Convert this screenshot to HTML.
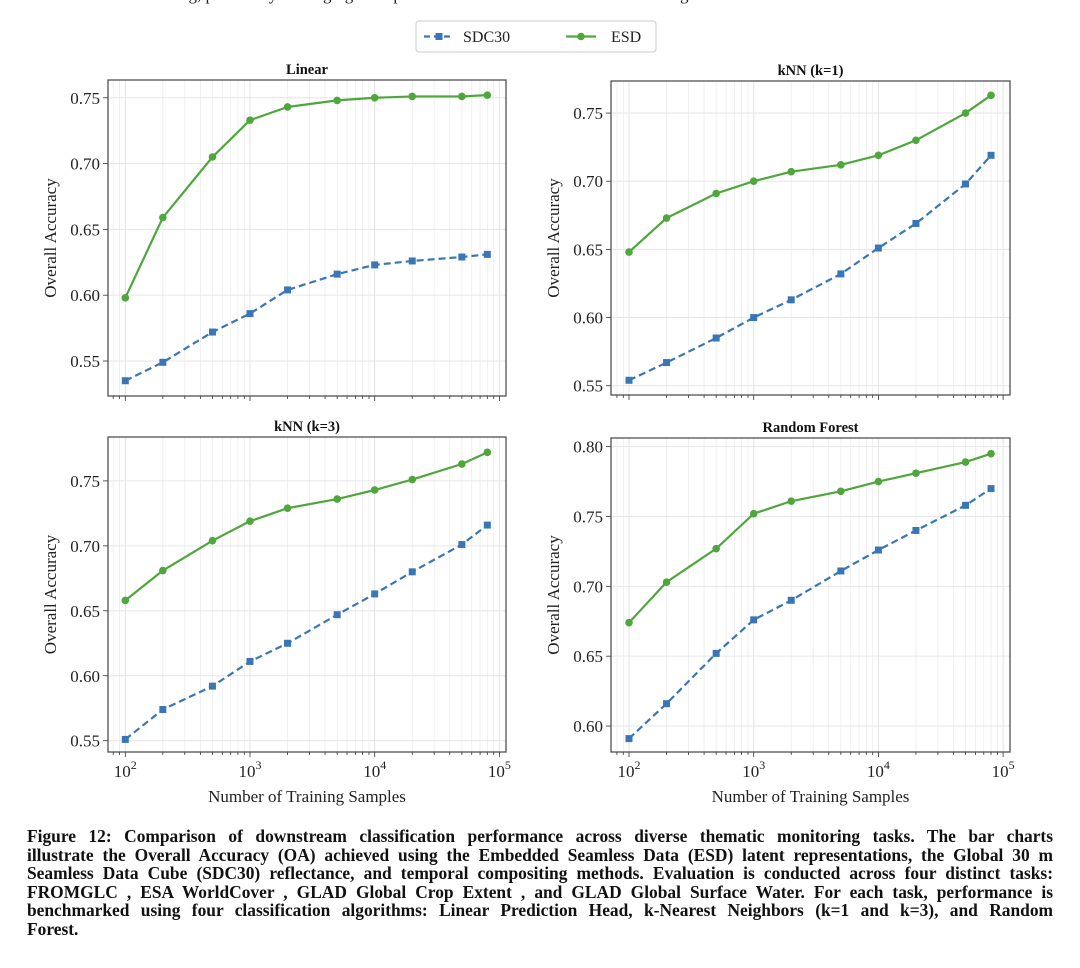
<!DOCTYPE html>
<html><head><meta charset="utf-8"><style>
html,body{margin:0;padding:0;background:#fff;width:1080px;height:968px;overflow:hidden;position:relative;font-family:"Liberation Serif",serif}
.cap{position:absolute;left:27px;width:1026px;font-weight:bold;font-size:17.4px;line-height:18.6px;color:#111}
.cap div{text-align:justify;text-align-last:justify;white-space:normal;height:18.6px;overflow:visible}
.cap div.last{text-align-last:left}
</style></head><body>
<div style="position:absolute;left:180px;top:-15px;font-size:17px;color:#222;white-space:nowrap">ng, previously leveraging multiple sources at the same time for monitoring</div>
<svg id="fig" width="1080" height="820" style="position:absolute;left:0;top:0"></svg>
<div class="cap" style="top:827px">
<div>Figure 12: Comparison of downstream classification performance across diverse thematic monitoring tasks. The bar charts</div>
<div>illustrate the Overall Accuracy (OA) achieved using the Embedded Seamless Data (ESD) latent representations, the Global 30 m</div>
<div>Seamless Data Cube (SDC30) reflectance, and temporal compositing methods. Evaluation is conducted across four distinct tasks:</div>
<div>FROMGLC , ESA WorldCover , GLAD Global Crop Extent , and GLAD Global Surface Water. For each task, performance is</div>
<div>benchmarked using four classification algorithms: Linear Prediction Head, k-Nearest Neighbors (k=1 and k=3), and Random</div>
<div class="last">Forest.</div>
</div>
<script>
const samples=[100,200,500,1000,2000,5000,10000,20000,50000,80000];
const titles=["Linear","kNN (k=1)","kNN (k=3)","Random Forest"];
const esdLinear=[0.598,0.659,0.705,0.733,0.743,0.748,0.750,0.751,0.751,0.752];
const sdcLinear=[0.535,0.549,0.572,0.586,0.604,0.616,0.623,0.626,0.629,0.631];
const esdKnn1=[0.648,0.673,0.691,0.700,0.707,0.712,0.719,0.730,0.750,0.763];
const sdcKnn1=[0.554,0.567,0.585,0.600,0.613,0.632,0.651,0.669,0.698,0.719];
const esdKnn3=[0.658,0.681,0.704,0.719,0.729,0.736,0.743,0.751,0.763,0.772];
const sdcKnn3=[0.551,0.574,0.592,0.611,0.625,0.647,0.663,0.680,0.701,0.716];
const esdRF=[0.674,0.703,0.727,0.752,0.761,0.768,0.775,0.781,0.789,0.795];
const sdcRF=[0.591,0.616,0.652,0.676,0.690,0.711,0.726,0.740,0.758,0.770];
const ticksTL=["0.55","0.60","0.65","0.70","0.75"];
const ticksTR=["0.55","0.60","0.65","0.70","0.75"];
const ticksBL=["0.55","0.60","0.65","0.70","0.75"];
const ticksBR=["0.60","0.65","0.70","0.75","0.80"];
const domains=[[0.5234,0.7635],[0.5432,0.7735],[0.5413,0.7838],[0.5814,0.8062]];
const NS="http://www.w3.org/2000/svg";
const svg=document.getElementById('fig');
function mk(tag,attrs,parent){const e=document.createElementNS(NS,tag);for(const k in attrs)e.setAttribute(k,attrs[k]);(parent||svg).appendChild(e);return e;}
const BLUE="#3a76b5",GREEN="#4ea63c";
const panels=[
 {L:108,R:506,T:80,B:396,x2:125.3,dec:124.7,esd:esdLinear,sdc:sdcLinear,ticks:ticksTL,lbl:false,name:"linear"},
 {L:611,R:1010,T:81,B:395,x2:629,dec:124.7,esd:esdKnn1,sdc:sdcKnn1,ticks:ticksTR,lbl:false,name:"knn1"},
 {L:108,R:506,T:437,B:752,x2:125.3,dec:124.7,esd:esdKnn3,sdc:sdcKnn3,ticks:ticksBL,lbl:true,name:"knn3"},
 {L:611,R:1010,T:438,B:752,x2:629,dec:124.7,esd:esdRF,sdc:sdcRF,ticks:ticksBR,lbl:true,name:"rf"}];
panels.forEach((p,i)=>{
 const g=mk('g',{});
 
 
 const [d0,d1]=domains[i];
 const xs=v=>p.x2+(Math.log10(v)-2)*p.dec;
 const ys=v=>p.B-(v-d0)/(d1-d0)*(p.B-p.T);
 for(let e=1;e<=5;e++)for(let m=1;m<10;m++){const v=m*Math.pow(10,e);const x=xs(v);if(x<p.L||x>p.R)continue;
  mk('line',{x1:x,x2:x,y1:p.T,y2:p.B,stroke:m==1?"#e3e3e3":"#ececec","stroke-width":m==1?1:0.8},g);
  mk('line',{x1:x,x2:x,y1:p.B,y2:p.B+(m==1?5:3),stroke:"#333","stroke-width":0.8},g);
  if(m==1&&p.lbl){const t=mk('text',{x:x,y:p.B+25,"text-anchor":"middle","font-size":17,fill:"#222"},g);t.textContent="10";const s=mk('tspan',{dy:-8,"font-size":12},t);s.textContent=String(e);
   }}
 p.ticks.forEach(tk=>{const y=ys(parseFloat(tk));mk('line',{x1:p.L,x2:p.R,y1:y,y2:y,stroke:"#e6e6e6","stroke-width":1},g);
  mk('line',{x1:p.L-5,x2:p.L,y1:y,y2:y,stroke:"#333","stroke-width":0.8},g);
  const t=mk('text',{x:p.L-8,y:y+6,"text-anchor":"end","font-size":17,fill:"#222"},g);t.textContent=tk;
  });
 mk('rect',{x:p.L,y:p.T,width:p.R-p.L,height:p.B-p.T,fill:"none",stroke:"#444","stroke-width":1.2},g);
 const tt=mk('text',{x:(p.L+p.R)/2,y:p.T-6,"text-anchor":"middle","font-size":14.5,"font-weight":"bold",fill:"#111"},g);tt.textContent=titles[i];
 
 const yl=mk('text',{transform:`translate(${p.L-52},${(p.T+p.B)/2}) rotate(-90)`,"text-anchor":"middle","font-size":17,fill:"#222"},g);yl.textContent="Overall Accuracy";
 
 if(p.lbl){const xl=mk('text',{x:(p.L+p.R)/2,y:p.B+50,"text-anchor":"middle","font-size":17,fill:"#222"},g);xl.textContent="Number of Training Samples";
  }
 const sp=p.sdc.map((v,k)=>xs(samples[k])+","+ys(v)).join(" ");
 const l1=mk('polyline',{points:sp,fill:"none",stroke:BLUE,"stroke-width":2.2,"stroke-dasharray":"7,4"},g);
 
 p.sdc.forEach((v,k)=>{const r=mk('rect',{x:xs(samples[k])-3.5,y:ys(v)-3.5,width:7,height:7,fill:BLUE},g);
  });
 const ep=p.esd.map((v,k)=>xs(samples[k])+","+ys(v)).join(" ");
 const l2=mk('polyline',{points:ep,fill:"none",stroke:GREEN,"stroke-width":2.2},g);
 
 p.esd.forEach((v,k)=>{const c=mk('circle',{cx:xs(samples[k]),cy:ys(v),r:3.8,fill:GREEN},g);
  });
});
const lg=mk('g',{});


mk('rect',{x:416,y:21,width:240,height:31,rx:3,fill:"#fff",stroke:"#ccc","stroke-width":1},lg);
mk('line',{x1:424,x2:454,y1:36.5,y2:36.5,stroke:BLUE,"stroke-width":2.2,"stroke-dasharray":"6,4"},lg);
mk('rect',{x:435.5,y:33,width:7,height:7,fill:BLUE},lg);
const t1=mk('text',{x:463,y:42,"font-size":16,fill:"#222"},lg);t1.textContent="SDC30";

mk('line',{x1:566,x2:596,y1:36.5,y2:36.5,stroke:GREEN,"stroke-width":2.2},lg);
mk('circle',{cx:581,cy:36.5,r:3.8,fill:GREEN},lg);
const t2=mk('text',{x:611,y:42,"font-size":16,fill:"#222"},lg);t2.textContent="ESD";

</script>
</body></html>
